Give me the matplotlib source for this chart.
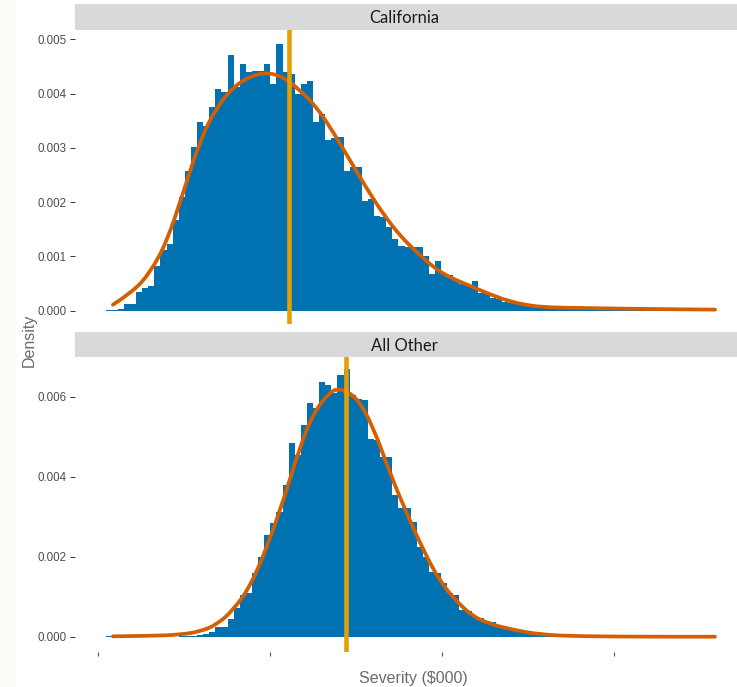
import numpy as np
import matplotlib.pyplot as plt
from matplotlib.path import Path
from matplotlib.patches import PathPatch

# histogram bar heights (density), 100 bins of equal width
cal_density = [0.00002, 0.00002, 0.00003, 0.00012, 0.00012, 0.00035, 0.00042, 0.00046, 0.00083, 0.00112,
               0.00123, 0.00168, 0.00210, 0.00257, 0.00301, 0.00347, 0.00341, 0.00375, 0.00409, 0.00403,
               0.00472, 0.00412, 0.00455, 0.00440, 0.00442, 0.00442, 0.00455, 0.00418, 0.00492, 0.00440,
               0.00437, 0.00400, 0.00418, 0.00423, 0.00347, 0.00363, 0.00314, 0.00318, 0.00320, 0.00258,
               0.00264, 0.00264, 0.00203, 0.00205, 0.00175, 0.00172, 0.00154, 0.00132, 0.00120, 0.00117,
               0.00117, 0.00117, 0.00101, 0.00068, 0.00092, 0.00068, 0.00065, 0.00055, 0.00050, 0.00048,
               0.00054, 0.00033, 0.00030, 0.00024, 0.00021, 0.00016, 0.00015, 0.00012, 0.00011, 0.00010,
               0.00008, 0.00008, 0.00007, 0.00007, 0.00006, 0.00005, 0.00005, 0.00004, 0.00004, 0.00004,
               0.00003, 0.00003, 0.00003, 0.00003, 0.00002, 0.00002, 0.00002, 0.00002, 0.00002, 0.00002,
               0.00001, 0.00001, 0.00001, 0.00001, 0.00001, 0.00001, 0.00001, 0.00001, 0.00001, 0.00001]

oth_density = [0.00003, 0.0, 0.0, 0.0, 0.0, 0.0, 0.0, 0.0, 0.0, 0.0,
               0.0, 0.0, 0.00001, 0.00001, 0.00002, 0.00004, 0.00007, 0.00012, 0.00025, 0.00025,
               0.00045, 0.00071, 0.00104, 0.00109, 0.00159, 0.00200, 0.00254, 0.00284, 0.00313, 0.00380,
               0.00484, 0.00455, 0.00530, 0.00585, 0.00571, 0.00638, 0.00630, 0.00609, 0.00655, 0.00670,
               0.00605, 0.00594, 0.00592, 0.00494, 0.00492, 0.00450, 0.00450, 0.00355, 0.00321, 0.00321,
               0.00288, 0.00225, 0.00200, 0.00163, 0.00160, 0.00135, 0.00109, 0.00105, 0.00067, 0.00065,
               0.00050, 0.00048, 0.00040, 0.00038, 0.00030, 0.00025, 0.00020, 0.00015, 0.00011, 0.00008,
               0.00006, 0.00004, 0.00003, 0.00001, 0.00001, 0.00001, 0.0, 0.0, 0.0, 0.0,
               0.0, 0.0, 0.0, 0.0, 0.0, 0.0, 0.0, 0.0, 0.0, 0.0,
               0.0, 0.0, 0.0, 0.0, 0.0, 0.0, 0.0, 0.0, 0.0, 0.0]

# fitted curves
cal_curve_x = [21.8, 50.9, 75.6, 99.8, 124, 148.3, 172.5, 196.7, 220.9, 245.2, 269.3, 293.6, 317.9, 342,
               366.3, 390.6, 414.7, 439, 463.2, 487.4, 511.6, 540.7, 569.8, 598.8, 628, 657, 700.6, 802, 896.8]
cal_curve_y = [0.00011, 0.00035, 0.00070, 0.00126, 0.00218, 0.00314, 0.00375, 0.00412, 0.00432, 0.00439,
               0.00431, 0.00406, 0.00375, 0.00329, 0.00277, 0.00225, 0.00178, 0.00138, 0.00108, 0.00080,
               0.00061, 0.00046, 0.00030, 0.00017, 0.00009, 0.00006, 0.00005, 0.00003, 0.00002]

oth_curve_x = [21.8, 75.6, 119.2, 148.3, 172.5, 196.7, 220.9, 245.2, 269.3, 293.6, 312.9, 337.2, 351.7,
               376.0, 400.1, 424.4, 448.7, 472.8, 497.1, 521.4, 545.5, 569.8, 598.8, 642.4, 700.6, 802.3, 896.8]
oth_curve_y = [0.00001, 0.00002, 0.00005, 0.00013, 0.00030, 0.00067, 0.00125, 0.00222, 0.00340, 0.00475,
               0.00559, 0.00613, 0.00621, 0.00600, 0.00525, 0.00409, 0.00309, 0.00217, 0.00138, 0.00088,
               0.00050, 0.00032, 0.00019, 0.00005, 0.00001, 0.0, 0.0]

cal_mean = 277.6
oth_mean = 361.2

panels = ["California", "All Other"]
cal_yticks = [0.000, 0.001, 0.002, 0.003, 0.004, 0.005]
oth_yticks = [0.000, 0.002, 0.004, 0.006]
xticks = [0, 250, 500, 750]

bin_lo = 11.0
bin_w = 8.87
edges = bin_lo + bin_w * np.arange(101)

W, H = 737, 687
def box(l, t, r, b):
	return [l / W, 1 - b / H, (r - l) / W, (b - t) / H]

def smooth_line(ax, xs, ys, **kw):
	# quadratic bezier through the midpoints, read points as control points
	verts = [(xs[0], ys[0])]
	codes = [Path.MOVETO]
	for k in range(1, len(xs) - 1):
		mx = (xs[k] + xs[k + 1]) / 2
		my = (ys[k] + ys[k + 1]) / 2
		verts += [(xs[k], ys[k]), (mx, my)]
		codes += [Path.CURVE3, Path.CURVE3]
	verts.append((xs[-1], ys[-1]))
	codes.append(Path.LINETO)
	ax.add_patch(PathPatch(Path(verts, codes), fill=False, **kw))

fig = plt.figure(figsize=(W / 100, H / 100), dpi=100)
fig.patches.append(plt.Rectangle((0, 0), 15 / W, 1, transform=fig.transFigure, color="#fcfbf8", zorder=-1))

ax1 = fig.add_axes(box(75, 30, 737, 323.5))
ax2 = fig.add_axes(box(75, 357, 737, 651.7))

setup = [(ax1, cal_density, cal_curve_x, cal_curve_y, cal_mean, cal_yticks, (-0.000236, 0.005172)),
         (ax2, oth_density, oth_curve_x, oth_curve_y, oth_mean, oth_yticks, (-0.000375, 0.006998))]

for ax, dens, cx, cy, m, yt, yl in setup:
	ax.stairs(dens, edges, fill=True, color="#0072B2", lw=0, zorder=1)
	smooth_line(ax, cx, cy, edgecolor="#D55E00", lw=2.7, capstyle="round", zorder=2)
	ax.axvline(m, color="#E69F00", lw=3.3, zorder=3)
	ax.set_xlim(-33.4, 928.8)
	ax.set_ylim(*yl)
	ax.set_yticks(yt)
	ax.set_yticklabels(["%.3f" % v for v in yt], fontsize=8.3, color="#4d4d4d", family="Liberation Sans")
	ax.tick_params(axis="y", length=3.5, width=0.7, color="#333333", pad=2.5)
	for s in ax.spines.values():
		s.set_visible(False)

ax1.set_xticks([])
ax2.set_xticks(xticks)
ax2.set_xticklabels([])
ax2.tick_params(axis="x", length=3, width=0.8, color="#555555")

# facet strips
for (l, t, r, b), name in zip([(75, 4, 737, 30), (75, 331.5, 737, 357)], panels):
	sa = fig.add_axes(box(l, t, r, b))
	sa.set_facecolor("#d9d9d9")
	sa.set_xticks([])
	sa.set_yticks([])
	for s in sa.spines.values():
		s.set_visible(False)
	sa.text(0.497, 0.45, name, ha="center", va="center", fontsize=12, family="Lato", color="#1a1a1a")

fig.text(413 / W, 1 - 678 / H, "Severity ($000)", ha="center", va="center",
         fontsize=11.5, color="#6b6b6b", family="Liberation Sans")
fig.text(29 / W, 1 - 340.5 / H, "Density", ha="center", va="center", rotation=90,
         fontsize=11.5, color="#6b6b6b", family="Liberation Sans")

fig.savefig("out.png", dpi=100)
